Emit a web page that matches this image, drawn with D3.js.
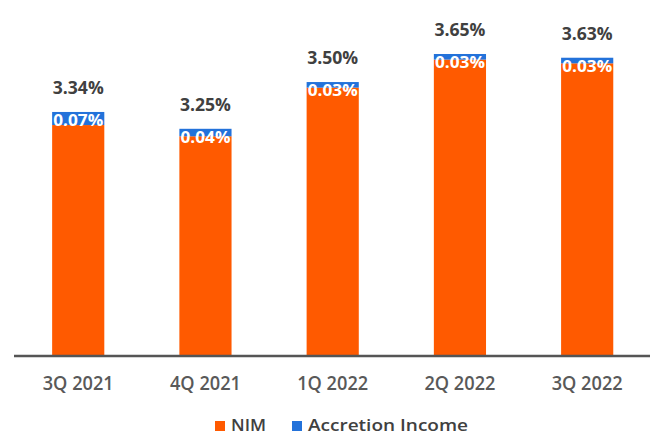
<!DOCTYPE html>
<html><head><meta charset="utf-8">
<script src="https://cdn.jsdelivr.net/npm/d3@7"></script>
<style>body{margin:0;background:#fff;}svg{display:block;}</style>
</head><body>
<script>
const categories = ["3Q 2021", "4Q 2021", "1Q 2022", "2Q 2022", "3Q 2022"];
const totalLabels = ["3.34%", "3.25%", "3.50%", "3.65%", "3.63%"];
const totals = [3.34, 3.25, 3.50, 3.65, 3.63];
const accretion = [0.07, 0.04, 0.03, 0.03, 0.03];
const accretionLabels = ["0.07%", "0.04%", "0.03%", "0.03%", "0.03%"];
const nim = [3.27, 3.21, 3.47, 3.62, 3.60];
const seriesNames = ["NIM", "Accretion Income"];

const W = 652, H = 437;
const orange = "#FF5A00", blue = "#2372DA";
const font = "'Open Sans', 'Noto Sans', sans-serif";
const svg = d3.select("body").append("svg").attr("width", W).attr("height", H)
  .style("font-family", font);

const x = d3.scaleBand().domain(categories).range([14.6, 650.8])
  .paddingInner(0.59).paddingOuter(0.295);
const y = d3.scaleLinear().domain([2.035, 3.8]).range([356, 356 - 1.765 * 187]);

const g = svg.append("g");
categories.forEach((c, i) => {
  const x0 = x(c), bw = x.bandwidth();
  g.append("rect").attr("x", x0).attr("width", bw)
    .attr("y", y(nim[i])).attr("height", y.range()[0] - y(nim[i])).attr("fill", orange);
  g.append("rect").attr("x", x0).attr("width", bw)
    .attr("y", y(totals[i])).attr("height", y(nim[i]) - y(totals[i])).attr("fill", blue);
  g.append("text").attr("x", x0 + bw / 2).attr("y", y(totals[i]) + 14)
    .attr("text-anchor", "middle").attr("fill", "#fff").attr("font-weight", "bold")
    .attr("font-size", 16).attr("textLength", 50).attr("lengthAdjust", "spacingAndGlyphs")
    .text(accretionLabels[i]);
  g.append("text").attr("x", x0 + bw / 2).attr("y", y(totals[i]) - 18)
    .attr("text-anchor", "middle").attr("fill", "#404040").attr("font-weight", "bold")
    .attr("font-size", 18).attr("textLength", 51).attr("lengthAdjust", "spacingAndGlyphs")
    .text(totalLabels[i]);
});

const xAxis = svg.append("g").attr("transform", "translate(0,356)")
  .call(d3.axisBottom(x).tickSize(0).tickPadding(21));
xAxis.select(".domain").attr("stroke", "#555").attr("stroke-width", 2.5)
  .attr("d", "M14,0H650");
xAxis.selectAll("text").attr("font-size", 19).attr("fill", "#595959")
  .attr("font-weight", 600)
  .attr("textLength", 71).attr("lengthAdjust", "spacingAndGlyphs")
  .style("font-family", font);

const leg = svg.append("g").attr("transform", "translate(0,431)");
const legItems = [
  {name: seriesNames[0], color: orange, x: 215, len: 35},
  {name: seriesNames[1], color: blue, x: 292, len: 160}
];
legItems.forEach(d => {
  leg.append("rect").attr("x", d.x).attr("y", -10).attr("width", 10).attr("height", 10).attr("fill", d.color);
  leg.append("text").attr("x", d.x + 16).attr("y", 0).attr("font-size", 17)
    .attr("font-weight", 600)
    .attr("fill", "#404040").attr("textLength", d.len).attr("lengthAdjust", "spacingAndGlyphs")
    .text(d.name);
});
</script>
</body></html>
